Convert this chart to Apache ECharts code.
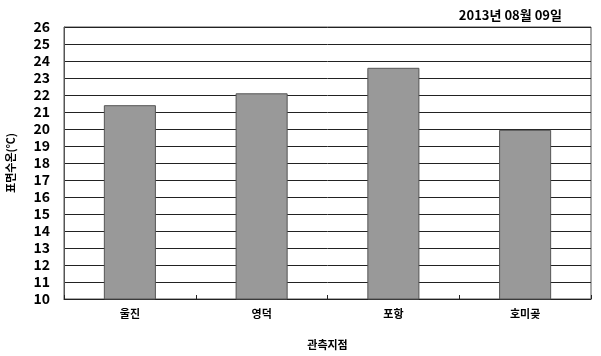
<!DOCTYPE html>
<html><head><meta charset="utf-8">
<script src="https://cdn.jsdelivr.net/npm/echarts@6/dist/echarts.min.js"></script>
<style>html,body{margin:0;padding:0;background:#fff}#c{width:601px;height:356px}</style>
</head><body><div id="c"></div>
<script>
const categories = ['울진', '영덕', '포항', '호미곶'];
const values = [21.4, 22.1, 23.6, 19.95];
const yMin = 10, yMax = 26, yStep = 1;
const title = '2013년 08월 09일';
const yName = '표면수온(℃)';
const xName = '관측지점';

const chart = echarts.init(document.getElementById('c'));
const font = '"Noto Sans CJK KR", "Noto Sans", sans-serif';
chart.setOption({
  animation: false,
  title: { text: title, right: 34, top: 4, textStyle: { fontFamily: font, fontSize: 13, fontWeight: 'bold', color: '#000' } },
  grid: { left: 64, right: 10, top: 27, bottom: 57, show: true, borderColor: '#555', borderWidth: 1, outerBoundsMode: 'none', containLabel: false },
  xAxis: {
    type: 'category', data: categories,
    name: xName, nameLocation: 'middle', nameGap: 40,
    nameTextStyle: { fontFamily: font, fontSize: 11, fontWeight: 'bold', color: '#000' },
    axisLine: { lineStyle: { color: '#222', width: 1 } },
    axisTick: { show: true, inside: true, length: 4, lineStyle: { color: '#222' } },
    axisLabel: { fontFamily: font, fontSize: 11, fontWeight: 'bold', color: '#000', margin: 9 }
  },
  yAxis: {
    type: 'value', min: yMin, max: yMax, interval: yStep,
    name: yName, nameLocation: 'middle', nameGap: 48, nameRotate: 90,
    nameTextStyle: { fontFamily: font, fontSize: 11, fontWeight: 'bold', color: '#000' },
    axisLine: { show: true, lineStyle: { color: '#555' } },
    axisTick: { show: false },
    axisLabel: { fontFamily: font, fontSize: 14, fontWeight: 'bold', color: '#000', margin: 14 },
    splitLine: { show: true, lineStyle: { color: '#222', width: 1 } }
  },
  series: [{
    type: 'bar', data: values, barWidth: '39.5%',
    itemStyle: { color: '#999999', borderColor: '#555', borderWidth: 1 }
  }]
});
</script></body></html>
